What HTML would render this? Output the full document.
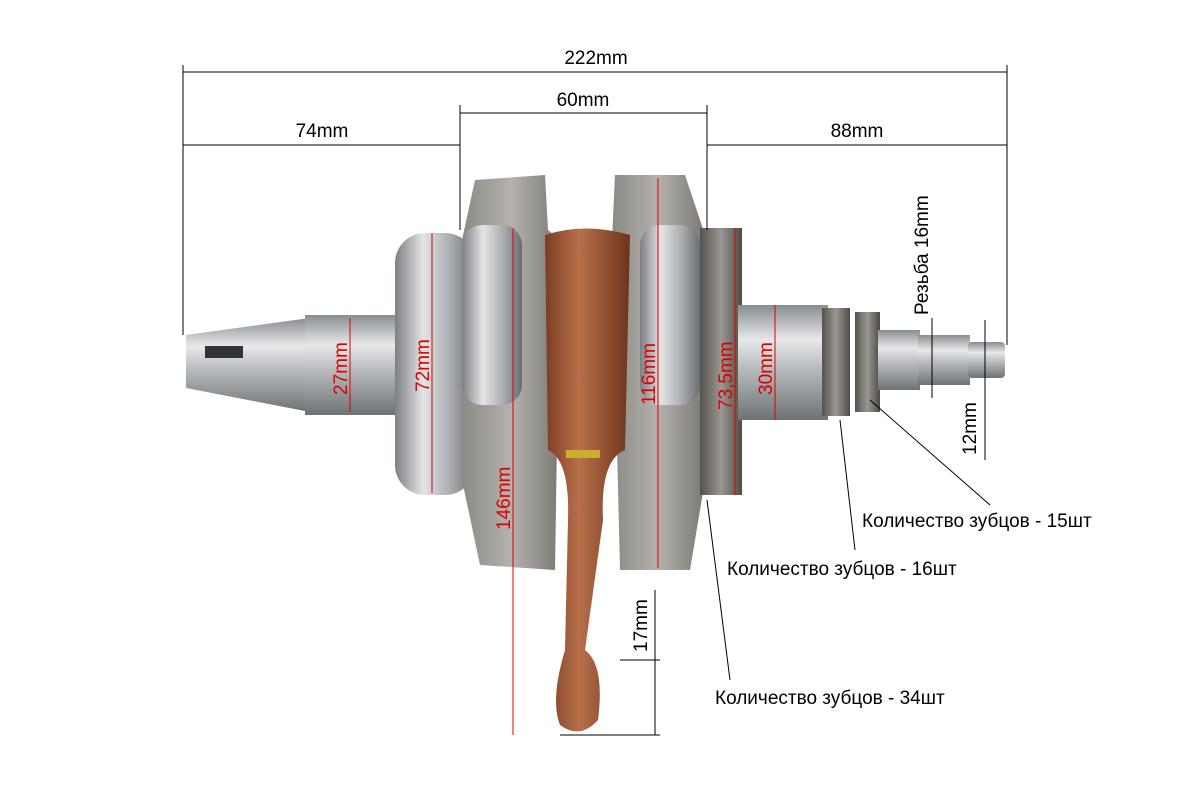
<!DOCTYPE html>
<html><head><meta charset="utf-8"><style>
html,body{margin:0;padding:0;background:#fff;}
svg{display:block;font-family:"Liberation Sans",sans-serif;}
</style></head><body>
<svg width="1193" height="800" viewBox="0 0 1193 800" xmlns="http://www.w3.org/2000/svg">
<defs>
<linearGradient id="met" x1="0" y1="0" x2="0" y2="1">
<stop offset="0" stop-color="#8a8d90"/><stop offset="0.3" stop-color="#e6e8ea"/><stop offset="0.55" stop-color="#b9bcbf"/><stop offset="1" stop-color="#6f7275"/></linearGradient>
<linearGradient id="metH" x1="0" y1="0" x2="1" y2="0">
<stop offset="0" stop-color="#7d8083"/><stop offset="0.35" stop-color="#e2e4e6"/><stop offset="0.7" stop-color="#a9acaf"/><stop offset="1" stop-color="#6a6d70"/></linearGradient>
<linearGradient id="web" x1="0" y1="0" x2="1" y2="0">
<stop offset="0" stop-color="#8c8a86"/><stop offset="0.5" stop-color="#b5b2ad"/><stop offset="1" stop-color="#7a7874"/></linearGradient>
<linearGradient id="cu" x1="0" y1="0" x2="1" y2="0">
<stop offset="0" stop-color="#7a3d22"/><stop offset="0.4" stop-color="#b8704a"/><stop offset="1" stop-color="#6d341c"/></linearGradient>
<linearGradient id="gear" x1="0" y1="0" x2="1" y2="0">
<stop offset="0" stop-color="#55524e"/><stop offset="0.5" stop-color="#9a9792"/><stop offset="1" stop-color="#4e4b47"/></linearGradient>
</defs>

<!-- left taper shaft -->
<polygon points="186,335 310,318 310,412 186,388" fill="url(#met)"/>
<rect x="205" y="346" width="38" height="12" fill="#333"/>
<rect x="305" y="315" width="95" height="100" fill="url(#met)"/>
<!-- bearing disk -->
<rect x="395" y="233" width="80" height="262" rx="30" fill="url(#metH)"/>
<!-- webs -->
<path d="M475,180 L545,175 L548,230 L560,240 L555,570 L480,565 L462,480 L462,240 Z" fill="url(#web)"/>
<path d="M615,175 L685,175 L705,235 L705,480 L690,570 L620,570 L612,240 Z" fill="url(#web)"/>
<rect x="462" y="225" width="60" height="180" rx="20" fill="url(#metH)"/>
<rect x="640" y="225" width="60" height="180" rx="20" fill="url(#metH)"/>
<!-- con rod -->
<path d="M545,235 Q585,222 630,235 L625,450 Q600,460 603,520 L585,650 Q605,665 598,720 Q580,740 560,725 Q550,700 565,650 L568,520 Q570,460 548,450 Z" fill="url(#cu)"/>
<rect x="566" y="450" width="34" height="8" fill="#c9b030"/>
<!-- gear -->
<rect x="700" y="228" width="42" height="267" fill="url(#gear)"/>
<!-- right shaft -->
<rect x="738" y="305" width="90" height="115" fill="url(#met)"/>
<rect x="822" y="308" width="28" height="108" fill="url(#gear)"/>
<rect x="855" y="312" width="25" height="100" fill="url(#gear)"/>
<rect x="878" y="330" width="42" height="60" fill="url(#met)"/>
<rect x="918" y="335" width="52" height="50" fill="url(#met)"/>
<rect x="968" y="342" width="37" height="36" rx="4" fill="url(#met)"/>

<!-- dimension lines (black) -->
<g stroke="#000" stroke-width="1" fill="none">
<line x1="183" y1="65" x2="183" y2="335"/>
<line x1="1007" y1="65" x2="1007" y2="345"/>
<line x1="460" y1="105" x2="460" y2="230"/>
<line x1="707" y1="105" x2="707" y2="230"/>
<line x1="183" y1="72" x2="1007" y2="72"/>
<line x1="183" y1="145" x2="460" y2="145"/>
<line x1="460" y1="113" x2="707" y2="113"/>
<line x1="707" y1="145" x2="1007" y2="145"/>
<line x1="932" y1="318" x2="932" y2="398"/>
<line x1="985" y1="320" x2="985" y2="460"/>
<line x1="655" y1="590" x2="655" y2="735"/>
<line x1="620" y1="660" x2="660" y2="660"/>
<line x1="560" y1="735" x2="660" y2="735"/>
<line x1="870" y1="400" x2="990" y2="505"/>
<line x1="840" y1="420" x2="855" y2="550"/>
<line x1="707" y1="500" x2="730" y2="680"/>
</g>
<g font-size="19" fill="#000">
<text x="596" y="64" text-anchor="middle">222mm</text>
<text x="322" y="137" text-anchor="middle">74mm</text>
<text x="583" y="106" text-anchor="middle">60mm</text>
<text x="857" y="137" text-anchor="middle">88mm</text>
<text transform="translate(928,315) rotate(-90)">Резьба 16mm</text>
<text transform="translate(976,455) rotate(-90)">12mm</text>
<text transform="translate(647,652) rotate(-90)">17mm</text>
<text x="862" y="527">Количество зубцов - 15шт</text>
<text x="727" y="575">Количество зубцов - 16шт</text>
<text x="715" y="704">Количество зубцов - 34шт</text>
</g>
<!-- red dims -->
<g stroke="#d00" stroke-width="1">
<line x1="350" y1="318" x2="350" y2="412"/>
<line x1="432" y1="233" x2="432" y2="493"/>
<line x1="513" y1="228" x2="513" y2="735"/>
<line x1="658" y1="178" x2="658" y2="568"/>
<line x1="735" y1="228" x2="735" y2="495"/>
<line x1="775" y1="305" x2="775" y2="420"/>
</g>
<g font-size="19" fill="#d00">
<text transform="translate(347,395) rotate(-90)">27mm</text>
<text transform="translate(429,392) rotate(-90)">72mm</text>
<text transform="translate(510,530) rotate(-90)">146mm</text>
<text transform="translate(655,405) rotate(-90)">116mm</text>
<text transform="translate(732,410) rotate(-90)">73,5mm</text>
<text transform="translate(772,395) rotate(-90)">30mm</text>
</g>
</svg>
</body></html>
